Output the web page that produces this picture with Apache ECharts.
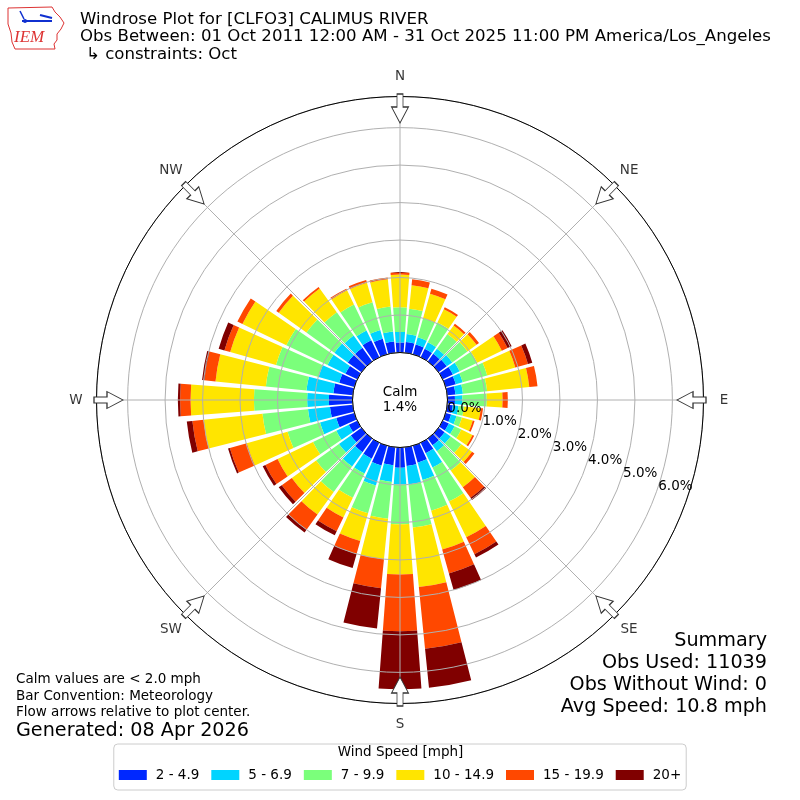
<!DOCTYPE html>
<html><head><meta charset="utf-8">
<script src="https://cdn.jsdelivr.net/npm/echarts@6/dist/echarts.min.js"></script>
<style>html,body{margin:0;padding:0;background:#fff}#c{width:800px;height:800px}</style>
</head><body><div id="c"></div>
<script>
// ---- data ----
const dirDeg = [0,10,20,30,40,50,60,70,80,90,100,110,120,130,140,150,160,170,180,190,200,210,220,230,240,250,260,270,280,290,300,310,320,330,340,350];
const speedBins = ['2 - 4.9','5 - 6.9','7 - 9.9','10 - 14.9','15 - 19.9','20+'];
const pct2to5   = [0.27,0.29,0.27,0.25,0.25,0.27,0.30,0.28,0.22,0.20,0.15,0.15,0.18,0.20,0.22,0.31,0.47,0.50,0.54,0.48,0.55,0.47,0.45,0.35,0.25,0.50,0.61,0.63,0.52,0.42,0.35,0.45,0.45,0.50,0.43,0.30];
const pct5to7   = [0.28,0.21,0.20,0.19,0.17,0.18,0.20,0.19,0.20,0.20,0.15,0.15,0.17,0.20,0.20,0.42,0.48,0.50,0.45,0.45,0.55,0.44,0.47,0.39,0.37,0.45,0.59,0.58,0.72,0.57,0.53,0.44,0.40,0.29,0.24,0.27];
const pct7to10  = [0.66,0.68,0.53,0.59,0.48,0.50,0.52,0.68,0.65,0.65,0.15,0.15,0.20,0.35,0.63,1.01,0.85,1.15,1.06,0.99,0.77,0.72,0.84,0.75,0.69,0.90,1.22,1.42,1.09,1.18,1.22,0.92,0.77,0.77,0.77,0.67];
const pct10to15 = [0.87,0.63,0.68,0.39,0.28,0.30,0.73,0.78,1.13,0.42,0.45,0.30,0.33,0.35,0.55,1.06,1.08,1.60,1.34,1.08,0.77,0.58,0.74,0.80,1.05,1.13,1.58,1.69,1.35,1.27,1.30,0.91,0.78,0.42,0.54,0.73];
const pct15to20 = [0.06,0.16,0.14,0.06,0.06,0.08,0.17,0.35,0.22,0.14,0.06,0.05,0.05,0.08,0.35,0.50,0.66,1.65,1.51,0.78,0.36,0.41,0.50,0.33,0.36,0.47,0.30,0.28,0.30,0.16,0.15,0.08,0.05,0.05,0.08,0.05];
const pct20plus = [0,0,0,0,0,0,0.12,0.12,0,0,0,0,0,0,0.07,0.10,0.46,1.05,1.55,1.08,0.39,0.12,0.09,0.10,0.08,0.05,0.15,0.06,0.06,0.16,0,0,0,0,0,0];
const compassNames = ['N','NE','E','SE','S','SW','W','NW'];
const compassDirs = [0,45,90,135,180,225,270,315];
const calmPct = 1.4;
const obsUsed = 11039;
const obsWithoutWind = 0;
const avgSpeed = 10.8;
const radiusMax = 6.83;

// ---- styles ----
const binColors = ['#0028ff','#00d4ff','#7bff7b','#ffe500','#ff4800','#800000'];
const FF = "'DejaVu Sans', sans-serif";
const binData = [pct2to5, pct5to7, pct7to10, pct10to15, pct15to20, pct20plus];
const polarBox = {center:[400,400], radius:[47.5,303.5]};
const arrowR = 6.51;

const chart = echarts.init(document.getElementById('c'), null, {renderer:'canvas'});
function txt(x, y, text, size, align, extra) {
  return Object.assign({type:'text', x:x, y:y, silent:true, z:50,
    style:{text:text, fontSize:size, fontFamily:FF, fill:'#000', align:align||'left', verticalAlign:'middle'}}, extra||{});
}
const series = speedBins.map((name, k) => ({
  type:'bar', name:name, coordinateSystem:'polar', polarIndex:0, stack:'ws',
  data: binData[k], itemStyle:{color: binColors[k]}, barCategoryGap:'15%', z:2, silent:true
}));
// flow arrows
series.push({
  type:'scatter', coordinateSystem:'polar', polarIndex:1, z:30, silent:true, clip:false,
  symbol:'path://M-3,0 L3,0 L3,13 L8.5,13 L0,29 L-8.5,13 L-3,13 Z',
  symbolSize:[17,29],
  itemStyle:{color:'#ffffff', borderColor:'#333333', borderWidth:1, opacity:1},
  data: compassDirs.map(a => ({value:[arrowR, a], symbolRotate:-a}))
});
// compass labels (on an outer polar whose edge is the label ring)
series.push({
  type:'scatter', coordinateSystem:'polar', polarIndex:3, z:30, silent:true, clip:false,
  symbol:'circle', symbolSize:2, itemStyle:{color:'rgba(0,0,0,0)'},
  label:{show:true, position:'inside', color:'#000', fontSize:13.5, fontFamily:FF,
    formatter: p => compassNames[p.dataIndex]},
  data: compassDirs.map(a => [1, a])
});

const option = {
  animation:false,
  backgroundColor:'#ffffff',
  textStyle:{fontFamily:FF},
  polar:[Object.assign({}, polarBox), Object.assign({}, polarBox), Object.assign({}, polarBox),
         {center:[400,400], radius:[0,324]}],
  angleAxis:[
    {polarIndex:0, type:'category', data:dirDeg, startAngle:95, clockwise:true, boundaryGap:true,
     axisLine:{show:false}, axisTick:{show:false}, axisLabel:{show:false}, splitLine:{show:false}},
    {polarIndex:1, type:'value', min:0, max:360, interval:45, startAngle:90, clockwise:true, z:10,
     axisLine:{show:true, lineStyle:{color:'#000', width:1}}, axisTick:{show:false},
     axisLabel:{show:false},
     splitLine:{show:true, lineStyle:{color:'#b0b0b0', width:1}}},
    {polarIndex:2, type:'value', min:0, max:360, startAngle:-20.3, clockwise:true,
     axisLine:{show:false}, axisTick:{show:false}, axisLabel:{show:false}, splitLine:{show:false}},
    {polarIndex:3, type:'value', min:0, max:360, startAngle:90, clockwise:true,
     axisLine:{show:false}, axisTick:{show:false}, axisLabel:{show:false}, splitLine:{show:false}}
  ],
  radiusAxis:[
    {polarIndex:0, type:'value', min:0, max:radiusMax,
     axisLine:{show:false}, axisTick:{show:false}, axisLabel:{show:false}, splitLine:{show:false}},
    {polarIndex:1, type:'value', min:0, max:radiusMax, interval:1, z:10,
     axisLine:{show:false}, axisTick:{show:false}, axisLabel:{show:false},
     splitLine:{show:true, lineStyle:{color:'#b0b0b0', width:1}}},
    {polarIndex:2, type:'value', min:0, max:radiusMax, interval:1, z:12,
     axisLine:{show:false}, axisTick:{show:false}, splitLine:{show:false},
     axisLabel:{show:true, margin:8, color:'#000', fontSize:13.5, fontFamily:FF,
       formatter: v => (Math.abs(v - Math.round(v)) < 1e-6 ? v.toFixed(1) + '%' : '')}},
    {polarIndex:3, type:'value', min:0, max:1,
     axisLine:{show:false}, axisTick:{show:false}, axisLabel:{show:false}, splitLine:{show:false}}
  ],
  legend:{
    data:speedBins, left:'center', bottom:10, orient:'horizontal', icon:'rect',
    itemWidth:28, itemHeight:10, itemGap:12, padding:[24,5,8,5],
    borderColor:'#cccccc', borderWidth:1, borderRadius:4, backgroundColor:'#fff',
    selectedMode:false,
    textStyle:{fontSize:13.5, color:'#000', fontFamily:FF, padding:[0,0,0,4]}
  },
  graphic:[
    // IEM logo (approximate)
    {type:'polyline', silent:true, z:50, shape:{points:[[8,8],[52,7],[55,12],[60,17],[64,23],[61,29],[57,34],[57,40],[54,44],[55,49],[15,49],[12,42],[11,33],[8,24],[8,8]]},
     style:{stroke:'#d33', lineWidth:1, fill:null}},
    {type:'line', silent:true, z:50, shape:{x1:22,y1:21,x2:52,y2:21}, style:{stroke:'#1030d0', lineWidth:2}},
    {type:'line', silent:true, z:50, shape:{x1:40,y1:15,x2:52,y2:18}, style:{stroke:'#1030d0', lineWidth:2}},
    {type:'line', silent:true, z:50, shape:{x1:20,y1:11,x2:24,y2:19}, style:{stroke:'#1030d0', lineWidth:1.5}},
    {type:'circle', silent:true, z:50, shape:{cx:25,cy:21,r:2}, style:{fill:'#1030d0'}},
    txt(14, 38, 'IEM', 17, 'left', {style:{text:'IEM', fontSize:17, fontFamily:"'Liberation Serif', serif", fontStyle:'italic', fill:'#d33', align:'left', verticalAlign:'middle'}}),
    // title
    txt(80, 19.5, 'Windrose Plot for [CLFO3] CALIMUS RIVER', 16.6),
    txt(80, 37, 'Obs Between: 01 Oct 2011 12:00 AM - 31 Oct 2025 11:00 PM America/Los_Angeles', 16.6),
    txt(86, 55, '\u21b3 constraints: Oct', 16.6),
    // calm
    {type:'text', x:400, y:400, silent:true, z:50,
     style:{text:'Calm\n' + calmPct.toFixed(1) + '%', fontSize:13.5, fontFamily:FF, fill:'#000', align:'center', verticalAlign:'middle', lineHeight:15}},
    // bottom left notes
    txt(16, 679, 'Calm values are < 2.0 mph', 13.5),
    txt(16, 696, 'Bar Convention: Meteorology', 13.5),
    txt(16, 712, 'Flow arrows relative to plot center.', 13.5),
    txt(16, 731, 'Generated: 08 Apr 2026', 19.2),
    // summary
    txt(767, 641, 'Summary', 19.2, 'right'),
    txt(767, 663, 'Obs Used: ' + obsUsed, 19.2, 'right'),
    txt(767, 685, 'Obs Without Wind: ' + obsWithoutWind, 19.2, 'right'),
    txt(767, 707, 'Avg Speed: ' + avgSpeed.toFixed(1) + ' mph', 19.2, 'right'),
    // legend title
    txt(400.5, 752.5, 'Wind Speed [mph]', 13.5, 'center')
  ],
  series:series
};
chart.setOption(option);
</script>
</body></html>
